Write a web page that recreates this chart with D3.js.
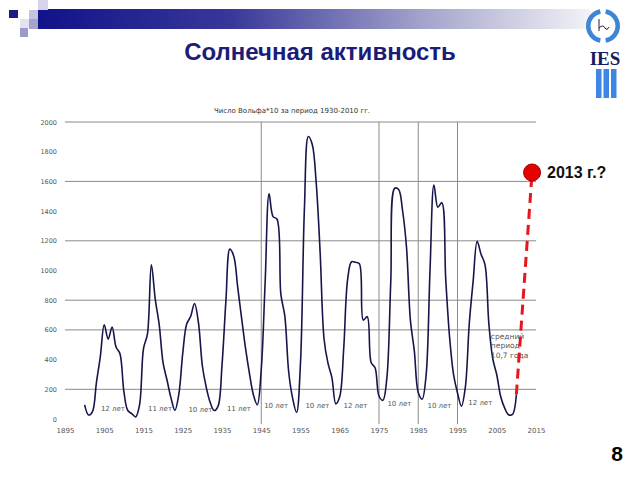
<!DOCTYPE html>
<html><head><meta charset="utf-8">
<script src="https://cdn.jsdelivr.net/npm/d3@7"></script>
<style>html,body{margin:0;padding:0;background:#fff}svg{display:block}</style>
</head><body>
<svg id="c" width="640" height="480"></svg>
<script>
// ---- data ----
const years = d3.range(1900, 2011);
const wolf10 = [95,27,50,244,420,635,538,620,485,439,186,57,36,14,96,474,571,1039,806,636,
376,261,142,58,167,443,639,690,778,649,357,212,111,57,87,361,797,1144,1096,888,
678,475,306,163,96,332,926,1516,1363,1347,839,694,315,139,44,380,1417,1902,1848,1590,
1123,539,376,279,102,151,470,938,1059,1055,1045,666,689,380,345,155,126,275,925,1554,
1546,1404,1159,666,459,179,134,294,1002,1576,1426,1457,943,546,299,175,86,215,643,933,
1196,1110,1040,637,404,298,152,75,29,31,165];
const forecastYears = [2010, 2014];
const forecastValues = [165, 1660];
const forecastLabel = "2013 г.?";
const xTicks = [1895,1905,1915,1925,1935,1945,1955,1965,1975,1985,1995,2005,2015];
const yTicks = [0,200,400,600,800,1000,1200,1400,1600,1800,2000];
const hGrid = [200,600,800,1200,1600,2000];
const vGrid = [1945,1975,1985,1995];
const cycleLabels = ["12 лет","11 лет","10 лет","11 лет","10 лет","10 лет","12 лет","10 лет","10 лет","12 лет"];
const cycleLabelYears = [1907.2,1919.2,1929.5,1939.3,1948.8,1959.3,1969,1980.2,1990.4,2000.8];
const cycleLabelValues = [75,75,70,75,95,95,95,110,95,115];
const noteLines = ["средний","период","10,7 года"];
const chartTitle = "Число Вольфа*10 за период 1930-2010 гг.";
const slideTitle = "Солнечная активность";

const svg = d3.select("#c");
const defs = svg.append("defs");
const g1 = defs.append("linearGradient").attr("id","bar");
g1.append("stop").attr("offset","0%").attr("stop-color","#12128a");
g1.append("stop").attr("offset","35%").attr("stop-color","#38389a");
g1.append("stop").attr("offset","70%").attr("stop-color","#a4a4cc");
g1.append("stop").attr("offset","100%").attr("stop-color","#f2f2f7");

// ---- slide decorations ----
svg.append("rect").attr("x",38).attr("y",9).attr("width",552).attr("height",20).attr("fill","url(#bar)");
const sq = [[9,10,9,8,"#1a1a80"],[38,0,10,10,"#d4d4ea"],[29,10,9,9,"#c4c4e0"],[20,19,9,9,"#e2e2f2"],[29,19,9,10,"#a4a4d0"],[20,28,8,9,"#9a9acc"]];
svg.selectAll("rect.sq").data(sq).join("rect").attr("class","sq")
  .attr("x",d=>d[0]).attr("y",d=>d[1]).attr("width",d=>d[2]).attr("height",d=>d[3]).attr("fill",d=>d[4]);

// logo
const logo = svg.append("g").attr("transform","translate(603,26)");
const arc = d3.arc().innerRadius(12.5).outerRadius(17);
logo.append("path").attr("d",arc({startAngle:0.18,endAngle:Math.PI-0.18})).attr("fill","#3d86d6");
logo.append("path").attr("d",arc({startAngle:Math.PI+0.18,endAngle:2*Math.PI-0.18})).attr("fill","#3d86d6");
logo.append("path").attr("d","M-4,-7 L-4,5 M-4,2 Q0,-2 2,2 Q4,5 6,1").attr("fill","none").attr("stroke","#222").attr("stroke-width",1);
svg.append("text").attr("x",605).attr("y",65).attr("text-anchor","middle")
  .attr("font-family","Liberation Serif, DejaVu Serif, serif").attr("font-weight","bold").attr("font-size",19)
  .attr("fill","#1a1a60").text("IES");
svg.selectAll("rect.lb").data([0,1,2]).join("rect").attr("class","lb")
  .attr("x",d=>596+d*7.5).attr("y",69).attr("width",5.5).attr("height",29).attr("fill","#3d86e6");

svg.append("text").attr("x",320).attr("y",60).attr("text-anchor","middle")
  .attr("font-family","Liberation Sans, Arial, sans-serif").attr("font-weight","bold").attr("font-size",24)
  .attr("fill","#1c1c78").text(slideTitle);

svg.append("text").attr("x",617).attr("y",461).attr("text-anchor","middle")
  .attr("font-family","Liberation Sans, Arial, sans-serif").attr("font-weight","bold").attr("font-size",21)
  .attr("fill","#000").text("8");

// ---- chart ----
const x = d3.scaleLinear().domain([1895,2015]).range([65,536]);
const y = d3.scaleLinear().domain([0,2000]).range([419,122]);

svg.append("text").attr("x",292).attr("y",113).attr("text-anchor","middle")
  .attr("font-family","DejaVu Sans, sans-serif").attr("font-size",7).attr("fill","#333").text(chartTitle);

svg.append("g").selectAll("line").data(hGrid).join("line")
  .attr("x1",x(1895)).attr("x2",x(2015)).attr("y1",d=>y(d)).attr("y2",d=>y(d))
  .attr("stroke","#8a8a8a").attr("stroke-width",1);
svg.append("g").selectAll("line").data(vGrid).join("line")
  .attr("x1",d=>x(d)).attr("x2",d=>x(d)).attr("y1",y(2000)).attr("y2",y(0)+5)
  .attr("stroke","#8a8a8a").attr("stroke-width",1);

const xa = svg.append("g").attr("transform",`translate(0,${y(0)+11})`)
  .call(d3.axisBottom(x).tickValues(xTicks).tickSize(0).tickFormat(d3.format("d")));
xa.select(".domain").remove();
xa.selectAll("text").attr("font-family","DejaVu Sans, sans-serif").attr("font-size",7).attr("fill","#555").attr("dy","0");
const ya = svg.append("g").attr("transform",`translate(${x(1895)-5},0)`)
  .call(d3.axisLeft(y).tickValues(yTicks).tickSize(0).tickFormat(d3.format("d")));
ya.select(".domain").remove();
ya.selectAll("text").attr("font-family","DejaVu Sans, sans-serif").attr("font-size",6.5).attr("fill","#555");

const line = d3.line().x((d,i)=>x(years[i])).y(d=>y(d)).curve(d3.curveCatmullRom.alpha(0.5));
svg.append("path").datum(wolf10).attr("d",line).attr("fill","none")
  .attr("stroke","#16164a").attr("stroke-width",1.6);

svg.append("g").selectAll("text").data(cycleLabels).join("text")
  .attr("x",(d,i)=>x(cycleLabelYears[i])).attr("y",(d,i)=>y(cycleLabelValues[i])+3)
  .attr("text-anchor","middle").attr("font-family","DejaVu Sans, sans-serif").attr("font-size",7)
  .attr("fill","#555").text(d=>d);

svg.append("g").selectAll("text").data(noteLines).join("text")
  .attr("x",x(2003.5)).attr("y",(d,i)=>y(540)+i*9.5)
  .attr("font-family","DejaVu Sans, sans-serif").attr("font-size",7.5).attr("fill","#555").text(d=>d);

// forecast
svg.append("line").attr("x1",x(forecastYears[0])).attr("y1",y(forecastValues[0]))
  .attr("x2",x(forecastYears[1])).attr("y2",y(forecastValues[1]))
  .attr("stroke","#e8161c").attr("stroke-width",3).attr("stroke-dasharray","10,6");
svg.append("circle").attr("cx",x(forecastYears[1])).attr("cy",y(forecastValues[1])).attr("r",8.5)
  .attr("fill","#e60000").attr("stroke","#a00000").attr("stroke-width",1);
svg.append("text").attr("x",x(forecastYears[1])+15).attr("y",y(forecastValues[1])+6)
  .attr("font-family","Liberation Sans, Arial, sans-serif").attr("font-weight","bold").attr("font-size",16)
  .attr("fill","#111").text(forecastLabel);
</script>
</body></html>
